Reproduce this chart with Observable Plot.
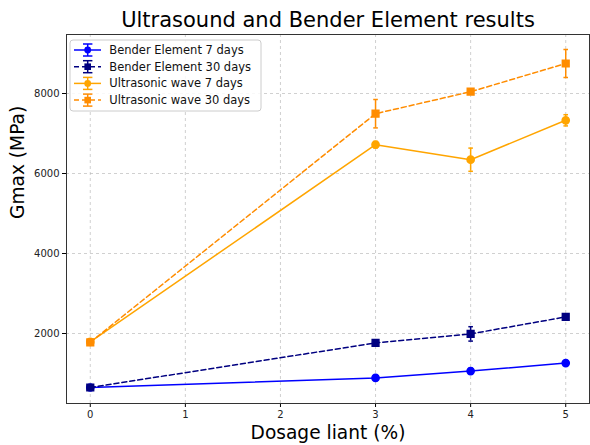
<!DOCTYPE html>
<html><head><meta charset="utf-8">
<script src="https://cdn.jsdelivr.net/npm/d3@7"></script>
<script src="https://cdn.jsdelivr.net/npm/@observablehq/plot@0.6"></script>
<style>body{margin:0;background:#fff;font-family:"DejaVu Sans",sans-serif}</style>
</head><body><div id="chart"></div>
<script>
const dosages = [0, 3, 4, 5];
const seriesNames = ["Bender Element 7 days","Bender Element 30 days","Ultrasonic wave 7 days","Ultrasonic wave 30 days"];
const seriesColors = ["#0000ff","#000080","#ffa500","#ff8c00"];
const seriesSymbols = ["circle","square","circle","square"];
const seriesDash = [null,"5,3",null,"5,3"];
const bender7 = [650, 890, 1060, 1260];
const bender7Err = [20, 60, 70, 30];
const bender30 = [650, 1765, 1990, 2415];
const bender30Err = [20, 50, 180, 60];
const ultra7 = [1790, 6720, 6345, 7330];
const ultra7Err = [30, 80, 290, 140];
const ultra30 = [1780, 7495, 8045, 8750];
const ultra30Err = [30, 355, 50, 350];
const xTicks = [0,1,2,3,4,5];
const yTicks = [2000,4000,6000,8000];

const values = [bender7, bender30, ultra7, ultra30];
const errs = [bender7Err, bender30Err, ultra7Err, ultra30Err];
const data = [];
values.forEach((vals, s) => vals.forEach((v, i) => data.push({series: seriesNames[s], s, x: dosages[i], y: v, e: errs[s][i]})));

const hline = {draw(ctx, size){ const r = Math.sqrt(size)/2; ctx.moveTo(-r,0); ctx.lineTo(r,0); }};

const marks = [
  Plot.gridX(xTicks, {stroke:"#b0b0b0", strokeOpacity:0.6, strokeDasharray:"3,3"}),
  Plot.gridY(yTicks, {stroke:"#b0b0b0", strokeOpacity:0.6, strokeDasharray:"3,3"}),
  Plot.axisX(xTicks, {tickSize:4, fontSize:10, tickPadding:3, label:null, tickFormat:"d", fill:"#222"}),
  Plot.axisY(yTicks, {tickSize:4, fontSize:10, tickPadding:3, label:null, tickFormat:"d", fill:"#222"}),
  Plot.frame({stroke:"#333"})
];
seriesNames.forEach((name, s) => {
  const d = data.filter(r => r.s === s);
  const c = seriesColors[s];
  marks.push(Plot.line(d, {x:"x", y:"y", stroke:c, strokeWidth:1.5, strokeDasharray: seriesDash[s]}));
  marks.push(Plot.ruleX(d, {x:"x", y1: r => r.y - r.e, y2: r => r.y + r.e, stroke:c, strokeWidth:1.5}));
  marks.push(Plot.dot(d, {x:"x", y: r => r.y - r.e, symbol: hline, r:2.6, stroke:c, strokeWidth:1.5}));
  marks.push(Plot.dot(d, {x:"x", y: r => r.y + r.e, symbol: hline, r:2.6, stroke:c, strokeWidth:1.5}));
  marks.push(Plot.dot(d, {x:"x", y:"y", symbol: seriesSymbols[s], r: seriesSymbols[s]==="circle"?3.6:3.8, fill:c, stroke:c}));
});
marks.push(Plot.text(["Ultrasound and Bender Element results"], {frameAnchor:"top", lineAnchor:"middle", dy:-14, fontSize:21, fill:"#000", text: d => d}));
marks.push(Plot.text(["Dosage liant (%)"], {frameAnchor:"bottom", lineAnchor:"middle", dy:30, fontSize:18.6, fill:"#000", text: d => d}));
marks.push(Plot.text(["Gmax (MPa)"], {frameAnchor:"left", lineAnchor:"middle", dx:-48, rotate:-90, fontSize:18.6, fill:"#000", text: d => d}));

const chart = Plot.plot({
  width:590, height:445,
  marginLeft:66, marginRight:1, marginTop:34, marginBottom:42,
  style:{fontFamily:"DejaVu Sans, sans-serif", background:"#fff"},
  x:{domain:[-0.25,5.25]},
  y:{domain:[250,9475]},
  marks
});
document.getElementById("chart").appendChild(chart);

// legend
const svg = d3.select(chart);
const lg = svg.append("g").attr("transform","translate(70,40)");
lg.append("rect").attr("width",191).attr("height",71).attr("rx",3).attr("fill","#fff").attr("fill-opacity",0.85).attr("stroke","#ccc");
seriesNames.forEach((name, s) => {
  const y = 10 + s*16.7;
  const c = seriesColors[s];
  const g = lg.append("g").attr("transform",`translate(0,${y})`);
  g.append("line").attr("x1",4).attr("x2",31).attr("y1",0).attr("y2",0).attr("stroke",c).attr("stroke-width",1.5).attr("stroke-dasharray",seriesDash[s]);
  g.append("line").attr("x1",17.7).attr("x2",17.7).attr("y1",-6).attr("y2",6).attr("stroke",c).attr("stroke-width",1.5);
  g.append("line").attr("x1",13).attr("x2",22.4).attr("y1",-6).attr("y2",-6).attr("stroke",c).attr("stroke-width",1.5);
  g.append("line").attr("x1",13).attr("x2",22.4).attr("y1",6).attr("y2",6).attr("stroke",c).attr("stroke-width",1.5);
  if (seriesSymbols[s]==="circle") g.append("circle").attr("cx",17.7).attr("cy",0).attr("r",3.4).attr("fill",c);
  else g.append("rect").attr("x",14.4).attr("y",-3.3).attr("width",6.6).attr("height",6.6).attr("fill",c);
  g.append("text").attr("x",39.3).attr("y",0).attr("dy","0.35em").attr("text-anchor","start").attr("font-size",11.5).attr("fill","#111").text(name);
});
</script></body></html>
